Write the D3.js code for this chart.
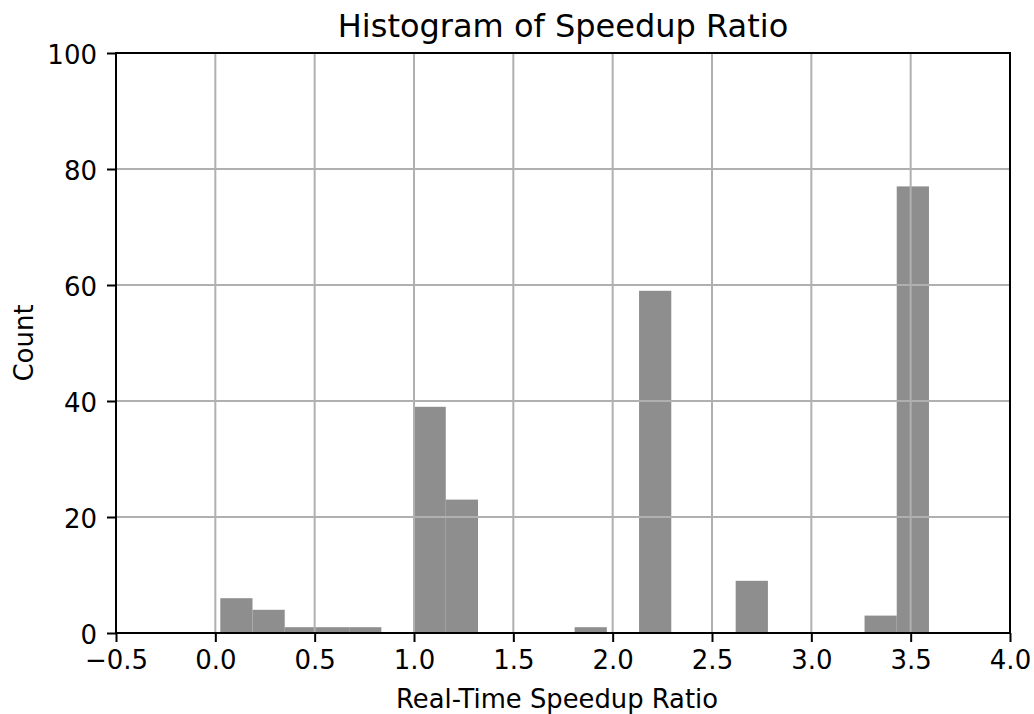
<!DOCTYPE html>
<html>
<head>
<meta charset="utf-8">
<script src="https://cdn.jsdelivr.net/npm/d3@7"></script>
<style>
  body { margin: 0; background: #fff; }
  svg { display: block; font-family: "DejaVu Sans", sans-serif; }
</style>
</head>
<body>
<svg id="chart" width="1034" height="714"></svg>
<script>
// bin edges (22 equal bins) and counts per bin
const binEdges = [0.025, 0.1871, 0.3493, 0.5114, 0.6736, 0.8357, 0.9978, 1.1600, 1.3221,
  1.4843, 1.6464, 1.8085, 1.9707, 2.1328, 2.2950, 2.4571, 2.6192, 2.7814, 2.9435,
  3.1057, 3.2678, 3.4299, 3.5921];
const binCounts = [6, 4, 1, 1, 1, 0, 39, 23, 0, 0, 0, 1, 0, 59, 0, 0, 9, 0, 0, 0, 3, 77];
const xTicks = [-0.5, 0.0, 0.5, 1.0, 1.5, 2.0, 2.5, 3.0, 3.5, 4.0];
const yTicks = [0, 20, 40, 60, 80, 100];

const margin = { top: 53, right: 24, bottom: 81, left: 116 };
const width = 1034, height = 714;

const svg = d3.select("#chart");

const x = d3.scaleLinear().domain([-0.5, 4.0]).range([margin.left, width - margin.right]);
const y = d3.scaleLinear().domain([0, 100]).range([height - margin.bottom, margin.top]);

const bins = binCounts.map((c, i) => ({ x0: binEdges[i], x1: binEdges[i + 1], count: c }));

// bars
svg.append("g")
  .selectAll("rect")
  .data(bins.filter(d => d.count > 0))
  .join("rect")
  .attr("x", d => x(d.x0))
  .attr("width", d => x(d.x1) - x(d.x0))
  .attr("y", d => y(d.count))
  .attr("height", d => y(0) - y(d.count))
  .attr("fill", "#8e8e8e");

// grid (drawn over the bars, like matplotlib)
const grid = svg.append("g").attr("stroke", "#b0b0b0").attr("stroke-width", 2);
grid.selectAll(".vgrid").data(xTicks).join("line")
  .attr("class", "vgrid")
  .attr("x1", d => x(d)).attr("x2", d => x(d))
  .attr("y1", y(0)).attr("y2", y(100));
grid.selectAll(".hgrid").data(yTicks).join("line")
  .attr("class", "hgrid")
  .attr("x1", x(-0.5)).attr("x2", x(4.0))
  .attr("y1", d => y(d)).attr("y2", d => y(d));

// axes
const xAxis = d3.axisBottom(x).tickValues(xTicks)
  .tickFormat(d => d < 0 ? "\u2212" + Math.abs(d).toFixed(1) : d.toFixed(1))
  .tickSize(9).tickPadding(9);
const yAxis = d3.axisLeft(y).tickValues(yTicks).tickFormat(d3.format("d"))
  .tickSize(9).tickPadding(10);

const gx = svg.append("g")
  .attr("transform", `translate(0,${y(0)})`)
  .call(xAxis);
const gy = svg.append("g")
  .attr("transform", `translate(${x(-0.5)},0)`)
  .call(yAxis);

[gx, gy].forEach(g => {
  g.select(".domain").remove();
  g.selectAll(".tick line").attr("stroke", "#000").attr("stroke-width", 2);
  g.selectAll(".tick text")
    .attr("fill", "#000")
    .style("font-size", "26px")
    .style("font-family", "DejaVu Sans, sans-serif");
});
gx.selectAll(".tick text").attr("dy", "0.69em");
gy.selectAll(".tick text").attr("dy", "0.42em");

// spines
svg.append("rect")
  .attr("x", x(-0.5)).attr("y", y(100))
  .attr("width", x(4.0) - x(-0.5)).attr("height", y(0) - y(100))
  .attr("fill", "none").attr("stroke", "#000").attr("stroke-width", 2);

// labels
svg.append("text")
  .attr("x", (x(-0.5) + x(4.0)) / 2)
  .attr("y", 37)
  .attr("text-anchor", "middle")
  .style("font-size", "32px")
  .text("Histogram of Speedup Ratio");

svg.append("text")
  .attr("x", 557)
  .attr("y", 708)
  .attr("text-anchor", "middle")
  .style("font-size", "25.8px")
  .text("Real-Time Speedup Ratio");

svg.append("text")
  .attr("transform", `translate(33,${(y(0) + y(100)) / 2}) rotate(-90)`)
  .attr("text-anchor", "middle")
  .style("font-size", "26px")
  .text("Count");
</script>
</body>
</html>
